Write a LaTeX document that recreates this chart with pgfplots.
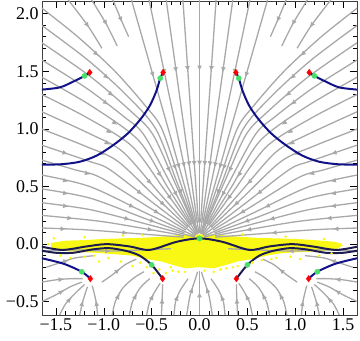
\documentclass[border=0pt]{standalone}
\usepackage{fontspec}
\setmainfont{Liberation Serif}
\usepackage{pgfplots}
\usepackage{pgfplotstable}
\pgfplotsset{compat=1.18}
\usetikzlibrary{arrows.meta}

\definecolor{sgray}{RGB}{168,168,168}
\definecolor{curve}{RGB}{18,18,135}
\definecolor{dcurve}{RGB}{28,28,78}
\definecolor{ydot}{RGB}{248,248,20}
\definecolor{gdot}{RGB}{70,225,100}

\pgfplotsset{
  stream/.style={color=sgray, line width=1.3pt, smooth, tension=0.5, no markers},
  heads/.style={color=sgray, line width=1.3pt, -{Latex[length=5.5bp,width=5bp]}},
}

% arrow heads, upper half, right side (mirrored for the left side)
\pgfplotstableread{
x y u v
0.0545 0.7 -0.0022 -0.026
0.1087 0.696 -0.00435 -0.0258
0.1624 0.688 -0.0065 -0.0255
0.2152 0.677 -0.0086 -0.0251
0.2543 0.666 -0.0102 -0.0247
0.195 0.453 -0.0117 -0.0242
0.3176 0.646 -0.0127 -0.0238
0.2446 0.434 -0.0147 -0.023
0.4139 0.603 -0.0166 -0.0221
0.3062 0.402 -0.0184 -0.0211
0.5195 0.537 -0.0208 -0.0195
0.3798 0.348 -0.0228 -0.0179
0.6213 0.445 -0.0249 -0.0158
0.4447 0.2765 -0.0267 -0.0136
0.7066 0.328 -0.0283 -0.0111
0.4896 0.1987 -0.0294 -0.0089
0.7544 0.2187 -0.0302 -0.0068
0.5131 0.1255 -0.0308 -0.0045
0.7788 0.0989 -0.0312 -0.002
1.0775 1.65 -0.0229 -0.0177
0.971 1.45 -0.0232 -0.0175
0.923 1.3 -0.0238 -0.017
0.9775 1.225 -0.0249 -0.0157
0.883 1.05 -0.0253 -0.0154
0.943 0.975 -0.0264 -0.0139
0.9625 0.875 -0.0274 -0.0126
1.0235 0.785 -0.0284 -0.011
1.4035 0.79 -0.0296 -0.0084
1.17 0.6125 -0.0299 -0.0075
1.398 0.55 -0.0304 -0.006
1.398 0.44 -0.0307 -0.0049
1.398 0.33 -0.031 -0.0037
1.353 0.225 -0.031 -0.0026
1.425 0.1325 -0.0312 -0.0007
0.1236 1.524 -0.0022 -0.026
0.2465 1.514 -0.00435 -0.0258
0.3682 1.496 -0.0065 -0.0255
0.4881 1.471 -0.0086 -0.0251
0.82 1.95 -0.0121 -0.0241
0.98 1.92 -0.0153 -0.0227
1.17 1.9 -0.018 -0.0213
}\headsup

% arrow heads, lower half, right side
\pgfplotstableread{
x y u v
0.075 -0.385 -0.0035 0.0091
0.225 -0.45 -0.0035 0.007
0.39 -0.48 -0.0007 0.0119
0.485 -0.445 -0.0049 0.0077
0.66 -0.44 -0.0056 0.0084
0.84 -0.44 -0.0056 0.0084
1.08 -0.5 0.0021 0.0102
1.22 -0.5 -0.0032 0.0098
1.345 -0.47 -0.0077 0.007
1.425 -0.405 -0.0105 0.0049
1.425 -0.305 -0.0105 0.0007
0.84 -0.22 -0.0084 0.0056
1.375 -0.14 -0.0105 0.0028
0.95 -0.06 -0.0245 0.0
}\headslow

% arrow heads on the centre line x = 0
\pgfplotstableread{
x y u v
0 1.528 0 -0.026
0 0.702 0 -0.026
0 -0.44 0 0.026
}\headsmid

\begin{document}
\begin{tikzpicture}
\begin{axis}[
  scale only axis, width=315bp, height=314bp,
  xmin=-1.645, xmax=1.645, ymin=-0.615, ymax=2.11,
  axis line style={black!75, line width=0.6pt},
  tick align=inside, xtick pos=both, ytick pos=both,
  xtick={-1.5,-1,-0.5,0,0.5,1,1.5},
  xticklabels={−1.5,−1.0,−0.5,0.0,0.5,1.0,1.5},
  ytick={-0.5,0,0.5,1,1.5,2},
  yticklabels={−0.5,0.0,0.5,1.0,1.5,2.0},
  minor x tick num=4, minor y tick num=4,
  major tick length=7bp, minor tick length=4bp,
  every tick/.style={black, line width=0.5pt},
  tick label style={font=\fontsize{18}{20}\selectfont},
]
\coordinate (sw) at (rel axis cs:0,0);
\coordinate (ne) at (rel axis cs:1,1);

% yellow band
\addplot[fill=ydot, draw=none] coordinates {
  (-1.55,0.01) (-1.4,0.03) (-1.2,0.035) (-1.0,0.045) (-0.8,0.05) (-0.6,0.055)
  (-0.4,0.065) (-0.2,0.08) (0,0.085) (0.2,0.08) (0.4,0.065) (0.6,0.055)
  (0.8,0.05) (1.0,0.045) (1.2,0.035) (1.42,0.02) (1.5,-0.01)
  (1.42,-0.05) (1.2,-0.065) (1.0,-0.07) (0.85,-0.08) (0.7,-0.1) (0.55,-0.13)
  (0.4,-0.15) (0.28,-0.18) (0.15,-0.21) (0,-0.2) (-0.15,-0.21) (-0.28,-0.18)
  (-0.4,-0.15) (-0.55,-0.13) (-0.7,-0.1) (-0.85,-0.09) (-1.0,-0.08)
  (-1.2,-0.07) (-1.42,-0.06) (-1.55,-0.03)
} --cycle;
\addplot[only marks, mark=*, mark size=1.1pt, color=ydot] coordinates {
  (-1.52,0.05) (-1.45,-0.1) (-1.35,-0.12) (-1.2,-0.11) (-1.05,-0.15) (-0.95,-0.12)
  (-0.82,-0.15) (-0.7,-0.19) (-0.55,-0.2) (-0.42,-0.22) (-0.35,-0.25) (-0.28,-0.23)
  (-0.15,-0.24) (0.05,-0.23) (0.15,-0.24) (0.28,-0.21) (0.4,-0.19) (0.55,-0.16)
  (0.65,-0.14) (0.8,-0.12) (0.95,-0.11) (1.05,-0.13) (1.25,-0.1) (1.38,-0.08)
  (-1.2,0.06) (-0.8,0.075) (0.9,0.065) (1.3,0.045) (-0.6,0.08) (0.45,0.085)
  (-1.58,0.0) (-0.3,-0.2) (-0.22,-0.24) (0.22,-0.22) (0.35,-0.2) (-1.1,-0.1)
  (1.47,0.0) (0.75,-0.13) (-0.62,-0.16) (-0.48,-0.25)
};

% stream lines
\addplot[stream] coordinates {(0,2.15) (0,1.2) (0,0.0935)};
\addplot[stream] coordinates {(0,-0.65) (0,-0.23)};
\pgfplotsinvokeforeach{1,-1}{
  % radial lines near the top
  \addplot[stream, x filter/.expression={#1*x}] coordinates {(0.176,2.15) (0.0116,0.1887)};
  \addplot[stream, x filter/.expression={#1*x}] coordinates {(0.353,2.15) (0.0072,0.0931)};
  \addplot[stream, x filter/.expression={#1*x}] coordinates {(0.535,2.15) (0.0347,0.186)};
  \addplot[stream, x filter/.expression={#1*x}] coordinates {(0.721,2.15) (0.0143,0.0918)};
  % short lines in the top corners
  \addplot[stream, x filter/.expression={#1*x}] coordinates {(0.92,2.15) (0.82,1.95) (0.74,1.8)};
  \addplot[stream, x filter/.expression={#1*x}] coordinates {(1.15,2.15) (0.98,1.92) (0.86,1.72)};
  \addplot[stream, x filter/.expression={#1*x}] coordinates {(1.4,2.15) (1.17,1.9) (1.02,1.7)};
  % lines from the side, bending into the sink
  \addplot[stream, x filter/.expression={#1*x}] coordinates {(1.65,2.05) (1.272,1.8) (0.883,1.5) (0.565,1.2) (0.393,1.0) (0.2035,0.543) (0.0169,0.0911)};
  \addplot[stream, x filter/.expression={#1*x}] coordinates {(1.65,1.9) (1.17,1.6) (0.772,1.3) (0.457,1.0) (0.234,0.534) (0.0624,0.1789)};
  \addplot[stream, x filter/.expression={#1*x}] coordinates {(1.65,1.75) (1.133,1.45) (0.713,1.15) (0.486,0.95) (0.254,0.527) (0.0211,0.0897)};
  \addplot[stream, x filter/.expression={#1*x}] coordinates {(1.65,1.6) (1.175,1.35) (0.78,1.1) (0.582,0.95) (0.293,0.511) (0.0783,0.1727)};
  \addplot[stream, x filter/.expression={#1*x}] coordinates {(1.65,1.45) (1.13,1.2) (0.636,0.9) (0.331,0.492) (0.0276,0.0869)};
  \addplot[stream, x filter/.expression={#1*x}] coordinates {(1.65,1.3) (1.181,1.1) (0.705,0.85) (0.367,0.472) (0.098,0.1625)};
  \addplot[stream, x filter/.expression={#1*x}] coordinates {(1.65,1.15) (1.126,0.95) (0.799,0.8) (0.416,0.4395) (0.0346,0.0825)};
  \addplot[stream, x filter/.expression={#1*x}] coordinates {(1.65,1.0) (1.192,0.85) (0.855,0.72) (0.456,0.407) (0.1215,0.1451)};
  \addplot[stream, x filter/.expression={#1*x}] coordinates {(1.65,0.86) (1.157,0.72) (0.943,0.65) (0.497,0.366) (0.0414,0.0764)};
  \addplot[stream, x filter/.expression={#1*x}] coordinates {(1.65,0.73) (1.3,0.645) (1.04,0.58) (0.5335,0.322) (0.1423,0.1224)};
  \addplot[stream, x filter/.expression={#1*x}] coordinates {(1.65,0.6) (1.146,0.5) (0.5655,0.272) (0.047,0.0685)};
  \addplot[stream, x filter/.expression={#1*x}] coordinates {(1.65,0.48) (1.146,0.4) (0.587,0.228) (0.1566,0.0975)};
  \addplot[stream, x filter/.expression={#1*x}] coordinates {(1.65,0.36) (1.146,0.3) (0.604,0.185) (0.0502,0.0613)};
  \addplot[stream, x filter/.expression={#1*x}] coordinates {(1.65,0.25) (1.056,0.2) (0.6155,0.1406) (0.1642,0.0741)};
  \addplot[stream, x filter/.expression={#1*x}] coordinates {(1.65,0.14) (1.2,0.125) (0.623,0.089) (0.1662,0.0604)};
  % lower field
  \addplot[stream, x filter/.expression={#1*x}] coordinates {(0.14,-0.65) (0.1,-0.45) (0.05,-0.32) (0.02,-0.24)};
  \addplot[stream, x filter/.expression={#1*x}] coordinates {(0.27,-0.65) (0.25,-0.5) (0.2,-0.4) (0.12,-0.3)};
  \addplot[stream, x filter/.expression={#1*x}] coordinates {(0.4,-0.65) (0.39,-0.48) (0.385,-0.35)};
  \addplot[stream, x filter/.expression={#1*x}] coordinates {(0.56,-0.65) (0.52,-0.5) (0.45,-0.39) (0.41,-0.34)};
  \addplot[stream, x filter/.expression={#1*x}] coordinates {(0.74,-0.65) (0.7,-0.5) (0.62,-0.38) (0.52,-0.3)};
  \addplot[stream, x filter/.expression={#1*x}] coordinates {(0.92,-0.65) (0.88,-0.5) (0.8,-0.38) (0.68,-0.29) (0.58,-0.24)};
  \addplot[stream, x filter/.expression={#1*x}] coordinates {(1.06,-0.65) (1.08,-0.5) (1.12,-0.36)};
  \addplot[stream, x filter/.expression={#1*x}] coordinates {(1.26,-0.65) (1.22,-0.5) (1.17,-0.37)};
  \addplot[stream, x filter/.expression={#1*x}] coordinates {(1.48,-0.65) (1.4,-0.52) (1.29,-0.42) (1.2,-0.35)};
  \addplot[stream, x filter/.expression={#1*x}] coordinates {(1.65,-0.5) (1.5,-0.44) (1.35,-0.37) (1.23,-0.33)};
  \addplot[stream, x filter/.expression={#1*x}] coordinates {(1.65,-0.33) (1.5,-0.31) (1.35,-0.3) (1.22,-0.3)};
  \addplot[stream, x filter/.expression={#1*x}] coordinates {(1.02,-0.33) (0.9,-0.26) (0.78,-0.18) (0.66,-0.13)};
  \addplot[stream, x filter/.expression={#1*x}] coordinates {(1.6,-0.2) (1.45,-0.16) (1.3,-0.12) (1.1,-0.1)};
  \addplot[stream, x filter/.expression={#1*x}] coordinates {(1.62,-0.06) (1.3,-0.05) (0.95,-0.06) (0.6,-0.05) (0.3,-0.04)};
}
% arrow heads
\addplot[heads, quiver={u=\thisrow{u}, v=\thisrow{v}}] table[x=x, y=y] {\headsup};
\addplot[heads, quiver={u=-\thisrow{u}, v=\thisrow{v}}] table[x expr=-\thisrow{x}, y=y] {\headsup};
\addplot[heads, quiver={u=\thisrow{u}, v=\thisrow{v}}] table[x=x, y=y] {\headslow};
\addplot[heads, quiver={u=-\thisrow{u}, v=\thisrow{v}}] table[x expr=-\thisrow{x}, y=y] {\headslow};
\addplot[heads, quiver={u=\thisrow{u}, v=\thisrow{v}}] table[x=x, y=y] {\headsmid};

% blue curves
\pgfplotsinvokeforeach{1,-1}{
  \addplot[curve, line width=2pt, smooth, no markers, x filter/.expression={#1*x}] coordinates {(0.38,1.49) (0.41,1.44) (0.45,1.33) (0.52,1.2) (0.62,1.08) (0.75,0.96) (0.9,0.86) (1.07,0.77) (1.25,0.715) (1.45,0.693) (1.66,0.69)};
  \addplot[curve, line width=2pt, smooth, no markers, x filter/.expression={#1*x}] coordinates {(1.146,1.49) (1.20,1.46) (1.32,1.41) (1.46,1.36) (1.66,1.34)};
  \addplot[curve, line width=2pt, smooth, no markers, x filter/.expression={#1*x}] coordinates {(1.14,-0.30) (1.23,-0.24) (1.42,-0.17) (1.66,-0.12)};
  \addplot[dcurve, line width=2pt, smooth, no markers, x filter/.expression={#1*x}] coordinates {(0.385,-0.30) (0.50,-0.18) (0.625,-0.10) (0.76,-0.06) (0.94,-0.035) (1.11,-0.045) (1.32,-0.075) (1.5,-0.075) (1.66,-0.055)};
}
\addplot[dcurve, line width=2pt, smooth, no markers] coordinates {
  (-1.66,-0.02) (-1.43,-0.05) (-1.18,-0.02) (-0.97,0.0) (-0.73,-0.02) (-0.52,-0.05)
  (-0.24,0.02) (0,0.05) (0.24,0.02) (0.52,-0.05) (0.73,-0.02) (0.97,0.0)
  (1.18,-0.02) (1.43,-0.05) (1.66,-0.02)};

% markers
\addplot[only marks, mark=*, mark size=2.6pt, color=gdot] coordinates {
  (0,0.05) (0.41,1.44) (-0.41,1.44) (1.20,1.46) (-1.20,1.46)
  (0.50,-0.18) (-0.50,-0.18) (1.23,-0.24) (-1.23,-0.24)};
\addplot[only marks, mark=diamond*, mark size=3.2pt, color=red] coordinates {
  (0.38,1.49) (-0.38,1.49) (1.146,1.49) (-1.146,1.49)
  (0.385,-0.30) (-0.385,-0.30) (1.14,-0.30) (-1.14,-0.30)};
\end{axis}
\pgfresetboundingbox
\useasboundingbox ([xshift=-42bp,yshift=-26bp]sw) rectangle ([xshift=3bp,yshift=1bp]ne);
\end{tikzpicture}
\end{document}
